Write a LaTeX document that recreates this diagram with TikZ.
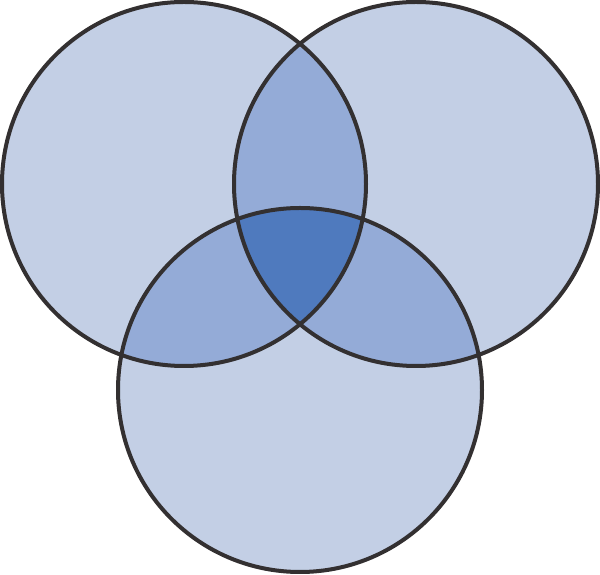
\documentclass[tikz,border=0pt]{standalone}
\definecolor{vennlight}{HTML}{C3CFE5}
\definecolor{vennmid}{HTML}{94ABD7}
\definecolor{venndark}{HTML}{4F7ABE}
\definecolor{vennline}{HTML}{333031}
\tikzset{vennring/.style={draw=vennline, line width=4pt}}
\begin{document}
\begin{tikzpicture}[x=1pt, y=1pt]
  \useasboundingbox (0,0) rectangle (600,575);

  % Circle centres
  \coordinate (left) at (184,391);
  \coordinate (right) at (416,391);
  \coordinate (bottom) at (300,185);

  % Single regions
  \fill[vennlight] (left) circle (182pt) (right) circle (182pt) (bottom) circle (182pt);

  % Pairwise overlaps
  \begin{scope}
    \clip (left) circle (182pt);
    \fill[vennmid] (right) circle (182pt);
    \fill[vennmid] (bottom) circle (182pt);
  \end{scope}
  \begin{scope}
    \clip (right) circle (182pt);
    \fill[vennmid] (bottom) circle (182pt);
  \end{scope}

  % Triple overlap
  \begin{scope}
    \clip (left) circle (182pt);
    \clip (right) circle (182pt);
    \fill[venndark] (bottom) circle (182pt);
  \end{scope}

  % Outlines
  \draw[vennring] (left) circle (182pt);
  \draw[vennring] (right) circle (182pt);
  \draw[vennring] (bottom) circle (182pt);
\end{tikzpicture}
\end{document}
